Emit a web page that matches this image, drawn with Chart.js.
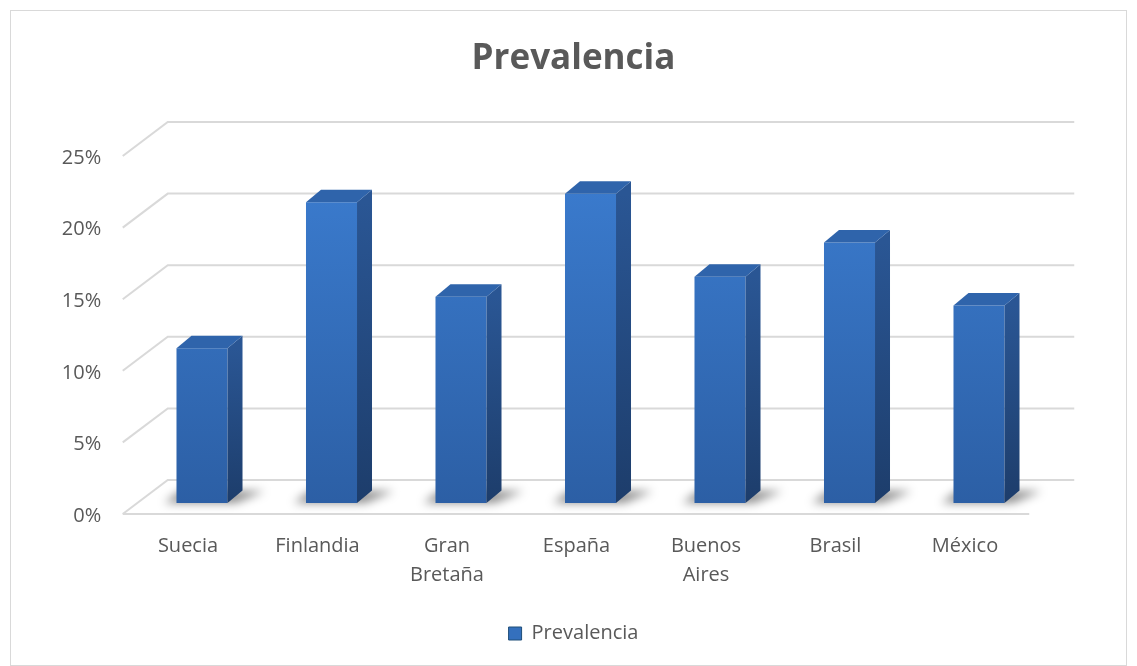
<!DOCTYPE html>
<html>
<head>
<meta charset="utf-8">
<script src="https://cdn.jsdelivr.net/npm/chart.js@4"></script>
<style>
html,body{margin:0;padding:0;background:#fff;}
#wrap{width:1137px;height:666px;position:relative;}
</style>
</head>
<body>
<div id="wrap"><canvas id="c" width="1137" height="666"></canvas></div>
<script>
const categories = ['Suecia','Finlandia','Gran Bretaña','España','Buenos Aires','Brasil','México'];
const prevalencia = [0.108, 0.210, 0.144, 0.216, 0.158, 0.182, 0.138];
const yTickValues = [0, 0.05, 0.10, 0.15, 0.20, 0.25];
const seriesName = 'Prevalencia';

const FONT = '"Open Sans", "Noto Sans", sans-serif';
const GRID = '#d9d9d9';
const TXT = '#595959';
const DEPTH = {fx: -14.5, fy: 11, bx: 30.5, by: -23};
const BAR3D = {dx: 15, dy: 12.5};

const bg3d = {
  id: 'bg3d',
  beforeDraw(chart) {
    const c = chart.ctx;
    c.save();
    c.fillStyle = '#fff';
    c.fillRect(0, 0, chart.width, chart.height);
    c.strokeStyle = GRID;
    c.lineWidth = 1;
    c.strokeRect(10.5, 10.5, chart.width - 21, chart.height - 11);
    c.restore();
  },
  beforeDatasetsDraw(chart) {
    const c = chart.ctx;
    const ys = chart.scales.y;
    const L = chart.chartArea.left, R = chart.chartArea.right;
    c.save();
    c.strokeStyle = GRID;
    c.lineWidth = 2;
    yTickValues.forEach(v => {
      const yp = ys.getPixelForValue(v);
      c.beginPath();
      c.moveTo(L + DEPTH.fx, yp + DEPTH.fy);
      c.lineTo(L + DEPTH.bx, yp + DEPTH.by);
      c.lineTo(R + DEPTH.bx, yp + DEPTH.by);
      c.stroke();
    });
    const y0 = ys.getPixelForValue(0);
    c.beginPath();
    c.moveTo(L + DEPTH.fx, y0 + DEPTH.fy);
    c.lineTo(R + DEPTH.fx, y0 + DEPTH.fy);
    c.stroke();
    const meta = chart.getDatasetMeta(0);
    c.filter = 'blur(5px)';
    c.fillStyle = 'rgba(0,0,0,0.45)';
    meta.data.forEach(el => {
      const l = el.x - el.width / 2, r = el.x + el.width / 2, b = el.base;
      c.beginPath();
      c.moveTo(l - 12, b);
      c.lineTo(r + 8, b);
      c.lineTo(r + BAR3D.dx + 22, b - 12);
      c.lineTo(l + 4, b - 12);
      c.closePath();
      c.fill();
    });
    c.restore();
  },
  afterDatasetsDraw(chart) {
    const c = chart.ctx;
    const meta = chart.getDatasetMeta(0);
    const {dx, dy} = BAR3D;
    c.save();
    meta.data.forEach(el => {
      const l = el.x - el.width / 2, r = el.x + el.width / 2, t = el.y, b = el.base;
      const gs = c.createLinearGradient(0, t, 0, b);
      gs.addColorStop(0, '#2a5694');
      gs.addColorStop(1, '#1d3d6b');
      c.fillStyle = gs;
      c.beginPath();
      c.moveTo(r, t);
      c.lineTo(r + dx, t - dy);
      c.lineTo(r + dx, b - dy);
      c.lineTo(r, b);
      c.closePath();
      c.fill();
      c.fillStyle = '#2f64ab';
      c.beginPath();
      c.moveTo(l, t);
      c.lineTo(l + dx, t - dy);
      c.lineTo(r + dx, t - dy);
      c.lineTo(r, t);
      c.closePath();
      c.fill();
    });
    c.restore();
  }
};

new Chart(document.getElementById('c'), {
  type: 'bar',
  data: {
    labels: categories,
    datasets: [{
      label: seriesName,
      data: prevalencia,
      backgroundColor: (ctx) => {
        const ch = ctx.chart;
        const ca = ch.chartArea;
        if (!ca) return '#3470bd';
        const g = ch.ctx.createLinearGradient(0, ca.top, 0, ca.bottom);
        g.addColorStop(0, '#3c7ed2');
        g.addColorStop(1, '#2c5fa5');
        return g;
      },
      borderWidth: 0,
      barPercentage: 0.394,
      categoryPercentage: 1
    }]
  },
  options: {
    responsive: false,
    animation: false,
    layout: {padding: {left: 20, right: 10, top: 10, bottom: 12.5}},
    plugins: {
      title: {
        display: true,
        text: 'Prevalencia',
        color: TXT,
        font: {family: FONT, size: 35, weight: 'bold', lineHeight: 1.2},
        padding: {top: 28, bottom: 65}
      },
      legend: {
        display: true,
        position: 'bottom',
        labels: {
          color: TXT,
          font: {family: FONT, size: 20},
          boxWidth: 13,
          boxHeight: 13,
          padding: 10,
          generateLabels: () => [{
            text: seriesName,
            fillStyle: '#3470bd',
            strokeStyle: '#1f4e79',
            lineWidth: 1,
            fontColor: TXT,
            datasetIndex: 0
          }]
        }
      },
      tooltip: {enabled: false}
    },
    scales: {
      x: {
        grid: {display: false, drawTicks: false},
        border: {display: false},
        ticks: {
          color: TXT,
          font: {family: FONT, size: 20, lineHeight: 1.45},
          padding: 28.5,
          labelOffset: -14,
          autoSkip: false,
          maxRotation: 0,
          callback: function(v) {
            const l = this.getLabelForValue(v);
            return l.includes(' ') ? l.split(' ') : l;
          }
        },
        afterFit: s => { s.height = 110.5; }
      },
      y: {
        min: 0,
        max: 0.25,
        grid: {display: false, drawTicks: false},
        border: {display: false},
        ticks: {
          stepSize: 0.05,
          color: TXT,
          font: {family: FONT, size: 20},
          padding: 36,
          labelOffset: 13,
          callback: v => Math.round(v * 100) + '%'
        },
        afterFit: s => { s.width = 117.25; }
      },
      yR: {
        position: 'right',
        display: true,
        grid: {display: false, drawTicks: false},
        border: {display: false},
        ticks: {display: false},
        afterFit: s => { s.width = 83.25; }
      }
    }
  },
  plugins: [bg3d]
});
</script>
</body>
</html>
